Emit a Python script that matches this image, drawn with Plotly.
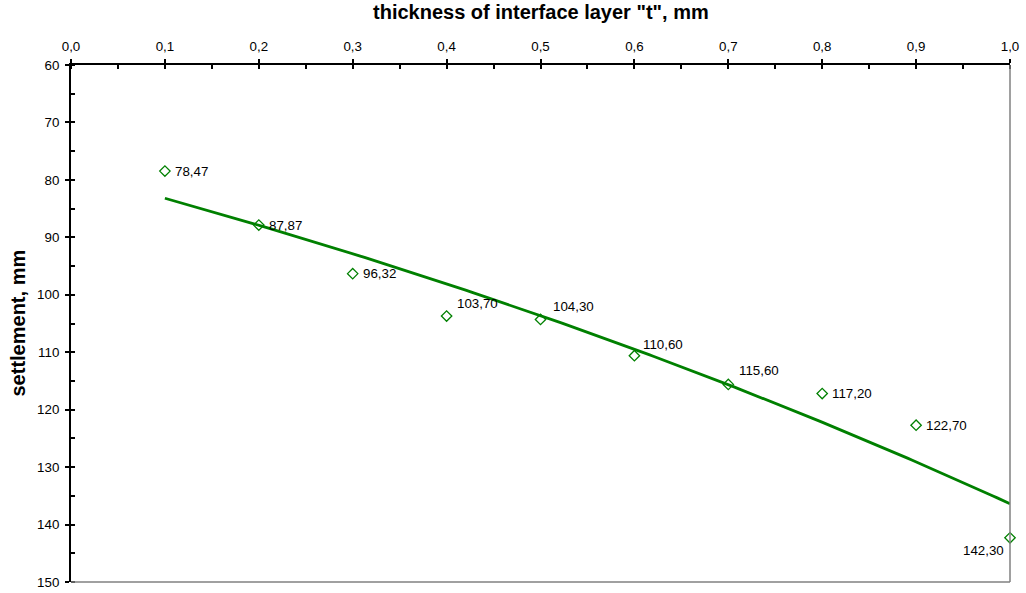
import numpy as np
import plotly.graph_objects as go

# interface layer thickness t, mm and measured settlement, mm
thickness = [0.1, 0.2, 0.3, 0.4, 0.5, 0.6, 0.7, 0.8, 0.9, 1.0]
settlement = [78.47, 87.87, 96.32, 103.70, 104.30, 110.60, 115.60, 117.20, 122.70, 142.30]

# label placement per point (xshift, yshift, anchor)
label_pos = [
    (8, 0, "left"),
    (8, 0, "left"),
    (8, 0, "left"),
    (8, 13, "left"),
    (10, 13, "left"),
    (7, 11, "left"),
    (9, 14, "left"),
    (8, 0, "left"),
    (8, 0, "left"),
    (-4, -13, "right"),
]

GREEN = "#008000"
FONT = "Liberation Sans, Arial, sans-serif"
TICK_SIZE = 13.33
TITLE_SIZE = 20

X_RANGE = [0, 1.0]
Y_RANGE = [150, 60]

# exponential trend line y = a*exp(b*x), least squares on ln(y)
x = np.array(thickness)
y = np.array(settlement)
b, ln_a = np.polyfit(x, np.log(y), 1)
xt = np.linspace(x.min(), x.max(), 200)
yt = np.exp(ln_a) * np.exp(b * xt)

fig = go.Figure()
fig.add_trace(go.Scatter(
    x=xt, y=yt, mode="lines",
    line=dict(color=GREEN, width=2.8),
    hoverinfo="skip", showlegend=False,
))
fig.add_trace(go.Scatter(
    x=thickness, y=settlement, mode="markers",
    marker=dict(symbol="diamond-open", size=8, color=GREEN, line=dict(width=1.3, color=GREEN)),
    showlegend=False, cliponaxis=False,
))
# empty trace carrying the inner halves of the major ticks
fig.add_trace(go.Scatter(x=[None], y=[None], xaxis="x2", yaxis="y2",
                         showlegend=False, hoverinfo="skip"))

for xv, yv, (dx, dy, xa) in zip(thickness, settlement, label_pos):
    fig.add_annotation(
        x=xv, y=yv, text=f"{yv:.2f}".replace(".", ","),
        showarrow=False, xanchor=xa, yanchor="middle",
        xshift=dx, yshift=dy,
        font=dict(family=FONT, size=TICK_SIZE, color="black"),
    )

# axis titles
fig.add_annotation(
    xref="paper", yref="paper", x=0.5, y=1, yshift=53,
    xanchor="center", yanchor="middle", showarrow=False,
    text='<b>thickness of interface layer "t", mm</b>',
    font=dict(family=FONT, size=TITLE_SIZE, color="black"),
)
fig.add_annotation(
    xref="paper", yref="paper", x=0, y=0.5, xshift=-54,
    xanchor="center", yanchor="middle", showarrow=False, textangle=-90,
    text="<b>settlement, mm</b>",
    font=dict(family=FONT, size=TITLE_SIZE, color="black"),
)

# right and bottom frame lines
fig.add_shape(type="line", xref="paper", yref="paper", x0=1, x1=1, y0=0, y1=1,
              line=dict(color="#808080", width=1.5))
fig.add_shape(type="line", xref="paper", yref="paper", x0=0, x1=1, y0=0, y1=0,
              line=dict(color="#808080", width=1.5))

fig.update_layout(
    width=1026, height=593,
    margin=dict(l=71, r=16, t=65, b=11, autoexpand=False),
    paper_bgcolor="white", plot_bgcolor="white",
    separators=",.",
    font=dict(family=FONT, size=TICK_SIZE, color="black"),
    xaxis=dict(
        side="top", range=X_RANGE, dtick=0.1, tick0=0, tickformat=".1f",
        showgrid=False, zeroline=False, automargin=False,
        showline=True, linecolor="black", linewidth=2,
        ticks="outside", ticklen=4, tickwidth=1.5, tickcolor="black",
        ticklabelstandoff=3,
        minor=dict(ticks="inside", ticklen=4, dtick=0.05, tickcolor="black", tickwidth=1.5, showgrid=False),
        tickfont=dict(size=TICK_SIZE),
    ),
    yaxis=dict(
        range=Y_RANGE, dtick=10, tick0=60,
        showgrid=False, zeroline=False, automargin=False,
        showline=True, linecolor="black", linewidth=2,
        ticks="outside", ticklen=4, tickwidth=1.5, tickcolor="black",
        ticklabelstandoff=3,
        minor=dict(ticks="inside", ticklen=4, dtick=5, tickcolor="black", tickwidth=1.5, showgrid=False),
        tickfont=dict(size=TICK_SIZE),
    ),
    xaxis2=dict(
        overlaying="x", side="top", range=X_RANGE, dtick=0.1, tick0=0,
        showgrid=False, zeroline=False, automargin=False, showline=False,
        showticklabels=False, ticks="inside", ticklen=4, tickwidth=1.5, tickcolor="black",
    ),
    yaxis2=dict(
        overlaying="y", side="left", range=Y_RANGE, dtick=10, tick0=60,
        showgrid=False, zeroline=False, automargin=False, showline=False,
        showticklabels=False, ticks="inside", ticklen=4, tickwidth=1.5, tickcolor="black",
    ),
)

fig.write_html("out.html")
